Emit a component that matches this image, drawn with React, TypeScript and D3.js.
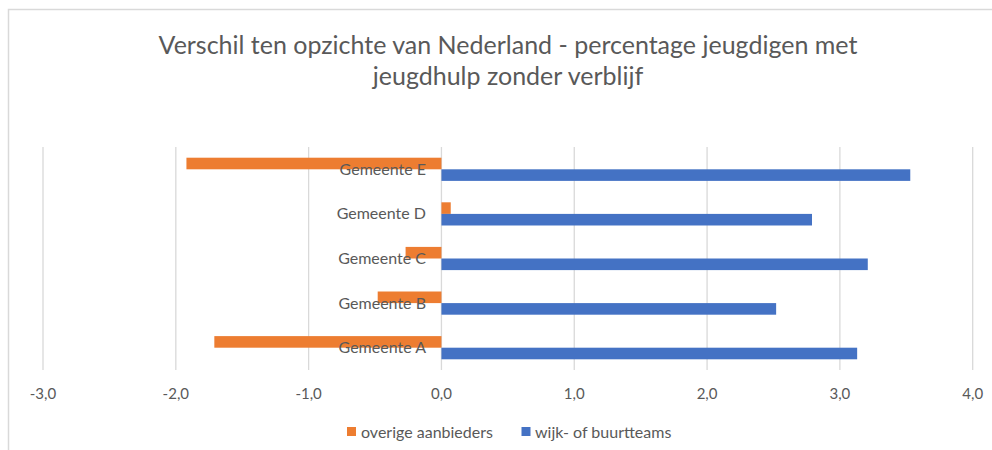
import * as React from "react";
import * as d3 from "d3";

const categories = ["Gemeente A", "Gemeente B", "Gemeente C", "Gemeente D", "Gemeente E"];
const seriesNames = ["overige aanbieders", "wijk- of buurtteams"];
const overige = [-1.71, -0.48, -0.27, 0.07, -1.92];
const wijk = [3.13, 2.52, 3.21, 2.79, 3.53];
const ticks = [-3, -2, -1, 0, 1, 2, 3, 4];
const colors = ["#ED7D31", "#4472C4"];

const W = 992;
const H = 450;
const FONT = "Lato, 'Liberation Sans', sans-serif";
const TEXT = "#595959";

export default function App() {
  const x = d3.scaleLinear().domain([-3, 4]).range([43, 972.7]);
  // top category first
  const y = d3.scaleBand().domain(categories.slice().reverse()).range([147, 370]).paddingInner(0.48).paddingOuter(0.24);
  const sub = d3.scaleBand().domain(seriesNames).range([0, y.bandwidth()]);
  const fmt = (v: number) => d3.format(".1f")(v).replace(".", ",").replace("−", "-");
  const values = [overige, wijk];

  return (
    <svg width={W} height={H} style={{ position: "absolute", left: 0, top: 0, background: "#fff" }} fontFamily={FONT}>
      <rect x={0} y={0} width={W} height={H} fill="#fff" />
      <path d={`M8.5,${H} V9.5 H${W}`} fill="none" stroke="#d9d9d9" strokeWidth={1.5} />

      <text x={508} y={54} textAnchor="middle" fontSize={25} fill={TEXT}>
        Verschil ten opzichte van Nederland - percentage jeugdigen met
      </text>
      <text x={508} y={85} textAnchor="middle" fontSize={25} fill={TEXT}>
        jeugdhulp zonder verblijf
      </text>

      <g>
        {ticks.map((t) => (
          <line key={t} x1={x(t)} x2={x(t)} y1={147} y2={370} stroke="#d9d9d9" strokeWidth={1.3} />
        ))}
      </g>

      {values.map((vals, si) => (
        <g key={si} fill={colors[si]}>
          {categories.map((c, i) => {
            const v = vals[i];
            return (
              <rect
                key={c}
                x={Math.min(x(0), x(v))}
                width={Math.abs(x(v) - x(0))}
                y={(y(c) as number) + (sub(seriesNames[si]) as number)}
                height={sub.bandwidth()}
              />
            );
          })}
        </g>
      ))}

      <g fontSize={16} fill={TEXT}>
        {categories.map((c) => (
          <text key={c} x={426} y={(y(c) as number) + y.bandwidth() / 2 + 5.5} textAnchor="end">
            {c}
          </text>
        ))}
      </g>

      <g fontSize={15} fill={TEXT}>
        {ticks.map((t) => (
          <text key={t} x={x(t)} y={398.5} textAnchor="middle">
            {fmt(t)}
          </text>
        ))}
      </g>

      <g fontSize={16} fill={TEXT}>
        <rect x={347} y={427} width={9} height={9} fill={colors[0]} />
        <text x={361} y={437.5}>{seriesNames[0]}</text>
        <rect x={521.5} y={427} width={9} height={9} fill={colors[1]} />
        <text x={535} y={437.5}>{seriesNames[1]}</text>
      </g>
    </svg>
  );
}
